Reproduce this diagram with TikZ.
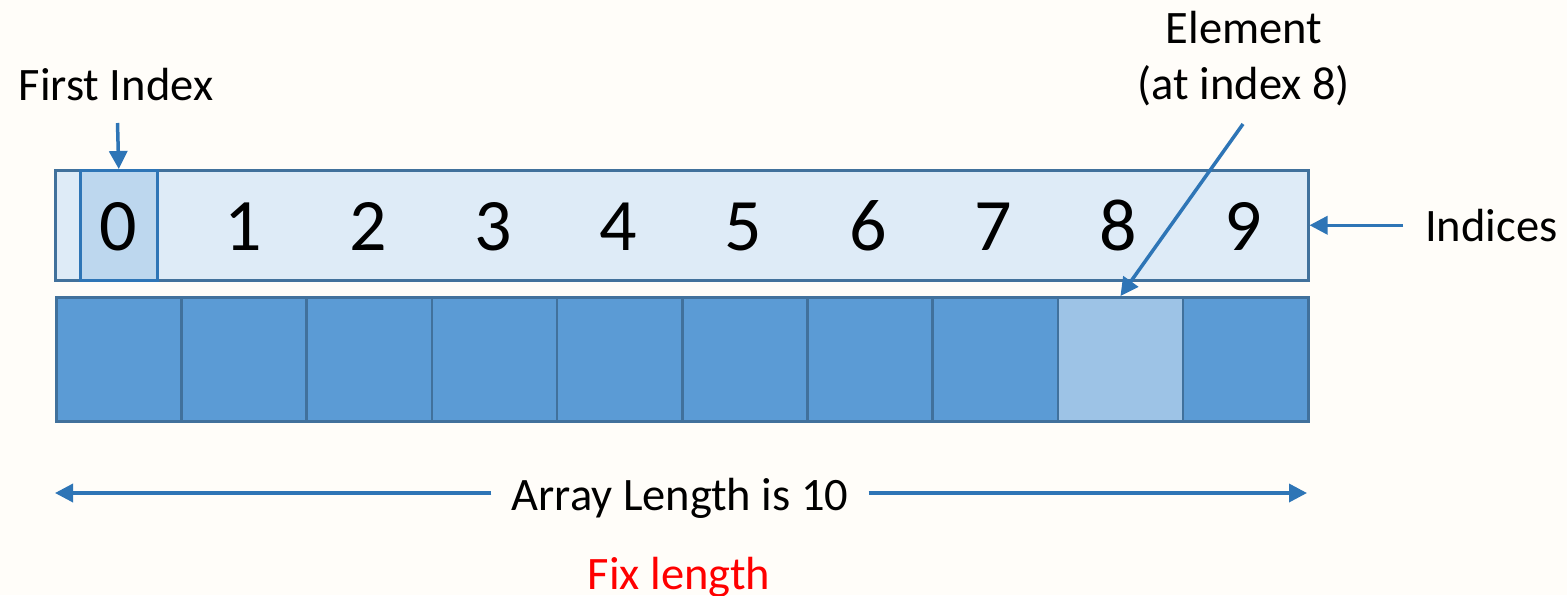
\documentclass[tikz,border=0pt]{standalone}
\usepackage{fontspec}
\setmainfont{Carlito}
\usetikzlibrary{arrows.meta}
\definecolor{bg}{HTML}{FFFDF9}
\definecolor{border}{HTML}{41719C}
\definecolor{zeroborder}{HTML}{2E75B6}
\definecolor{barfill}{HTML}{DEEBF7}
\definecolor{zerofill}{HTML}{BDD7EE}
\definecolor{elemblue}{HTML}{5B9BD5}
\definecolor{elemlight}{HTML}{9DC3E6}
\definecolor{arrowblue}{HTML}{2E75B6}
\definecolor{fixred}{HTML}{FF0000}
\begin{document}
\begin{tikzpicture}[x=1pt,y=-1pt,
  arr/.style={draw=arrowblue, line width=3.5pt, -{Triangle[length=18pt,width=18pt]}},
  lbl/.style={font=\fontsize{46.5}{56}\selectfont, inner sep=0pt, anchor=base},
  digit/.style={font=\fontsize{74}{80}\selectfont, inner sep=0pt, anchor=base},
  box/.style={line width=2.5pt, inner sep=0pt, anchor=north west},
  cell/.style={box, draw=border, minimum width=125.2pt, minimum height=124pt},
]
\fill[bg] (0,0) rectangle (1567,595);
\useasboundingbox (0,0) rectangle (1567,595);
% index bar
\node[box, draw=border, fill=barfill, minimum width=1253pt, minimum height=110pt] (bar) at (54,169) {};
\node[box, draw=zeroborder, fill=zerofill, minimum width=77pt, minimum height=110pt] (c0) at (79,169) {};
\foreach \i in {0,...,9} \node[digit] (d\i) at ({118+125*\i},250) {\i};
% element cells
\foreach \i/\c in {0/elemblue,1/elemblue,2/elemblue,3/elemblue,4/elemblue,5/elemblue,6/elemblue,7/elemblue,8/elemlight,9/elemblue}
  \node[cell, fill=\c] (e\i) at ({55+125.2*\i},296) {};
% labels
\node[lbl] (fi) at (116,100) {First Index};
\coordinate (fiTail) at (117.5,123);
\draw[arr] (fiTail) -- (c0.north);
\node[lbl, align=center] (el) at (1244,99) {Element\\(at index 8)};
\coordinate (elTail) at (1243,124);
\draw[arr] (elTail) -- (e8.north);
\node[lbl, anchor=base west, inner xsep=22pt] (ind) at (1403,241) {Indices};
\draw[arr] (ind.west |- bar.east) -- (bar.east);
\node[lbl, inner xsep=20pt] (len) at (680,510) {Array Length is 10};
\coordinate (lenL) at (55,493);
\coordinate (lenR) at (1307,493);
\draw[arr] (len.west |- lenL) -- (lenL);
\draw[arr] (len.east |- lenR) -- (lenR);
\node[lbl, text=fixred] (fix) at (679,589) {Fix length};
\end{tikzpicture}
\end{document}
